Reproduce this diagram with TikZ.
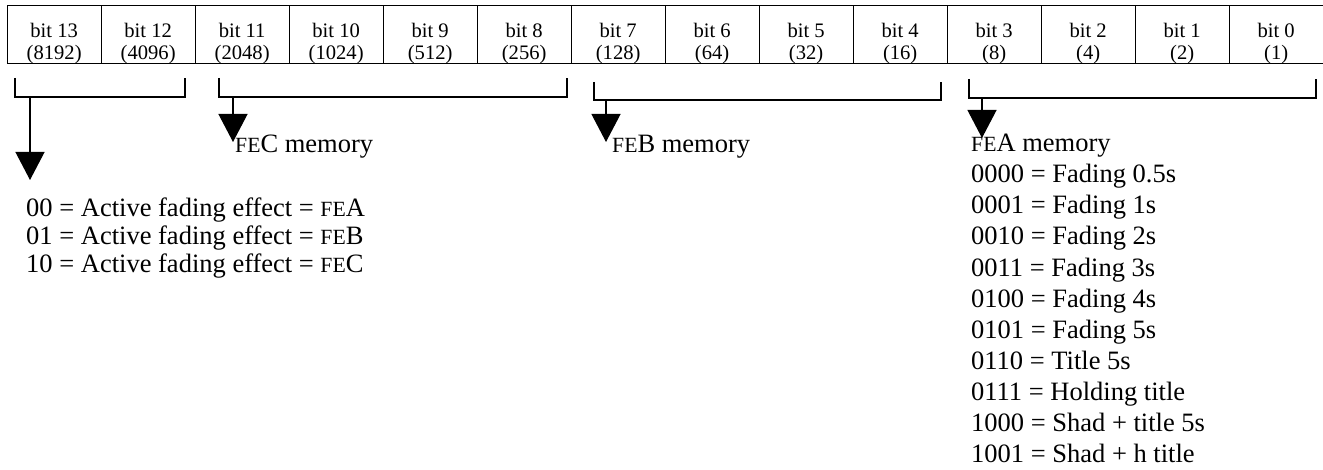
\documentclass[tikz,border=0pt]{standalone}
\usepackage{fontspec}
\setmainfont{Liberation Serif}
\usetikzlibrary{arrows.meta}
\newcommand\fe{{\fontsize{21.7}{21.7}\selectfont FE}}

\begin{document}
\begin{tikzpicture}[x=1pt,y=-1pt,
  cell/.style={draw,line width=1.3pt,minimum width=94pt,minimum height=58pt,inner sep=0pt,anchor=north west},
  bittext/.style={inner sep=0pt,anchor=base,font=\fontsize{20.6}{22}\selectfont},
  bracket/.style={line width=1.2pt},
  pointer/.style={line width=1.2pt,-{Triangle[width=29pt,length=28pt]}},
  memtext/.style={inner sep=0pt,anchor=base west,font=\fontsize{26.5}{31}\selectfont},
  listtext/.style={inner sep=0pt,anchor=north west,align=left}]
  \useasboundingbox (0,0) rectangle (1323,470);
  % register cells, highest bit on the left
  \foreach \b/\v [count=\i from 0] in {13/8192,12/4096,11/2048,10/1024,9/512,8/256,7/128,6/64,5/32,4/16,3/8,2/4,1/2,0/1} {
    \node[cell] (b\b) at (6.5+94*\i,5) {};
    \node[bittext] (t\b) at ([yshift=27pt]b\b.south) {bit \b};
    \node[bittext] (v\b) at ([yshift=5pt]b\b.south) {(\v)};
  }
  % brackets under the bit groups
  \draw[bracket] (15,78) |- (185,97) -- (185,78);
  \draw[bracket] (219,78) |- (567,97) -- (567,78);
  \draw[bracket] (594,82) |- (941,100) -- (941,82);
  \draw[bracket] (969,79) |- (1316,98) -- (1316,79);
  % texts
  \node[memtext] (fxc) at (235,153) {\fe C memory};
  \node[memtext] (fxb) at (612,153) {\fe B memory};
  \node[listtext,font=\fontsize{26.5}{28}\selectfont] (fxsel) at (26,198)
    {00 = Active fading effect = \fe A\\01 = Active fading effect = \fe B\\10 = Active fading effect = \fe C};
  \node[listtext,font=\fontsize{26.5}{31.1}\selectfont] (fxa) at (971,134)
    {\fe A memory\\0000 = Fading 0.5s\\0001 = Fading 1s\\0010 = Fading 2s\\0011 = Fading 3s\\0100 = Fading 4s\\0101 = Fading 5s\\0110 = Title 5s\\0111 = Holding title\\1000 = Shad + title 5s\\1001 = Shad + h title};
  % arrows down from the brackets
  \foreach \n/\x/\ya/\yb in {sel/30/97/180,fxc/233/97/142,fxb/606/100/142,fxa/982/98/138} {
    \coordinate (\n top) at (\x,\ya);
    \coordinate (\n tip) at (\x,\yb);
    \draw[pointer] (\n top) -- (\n tip);
  }
\end{tikzpicture}
\end{document}
